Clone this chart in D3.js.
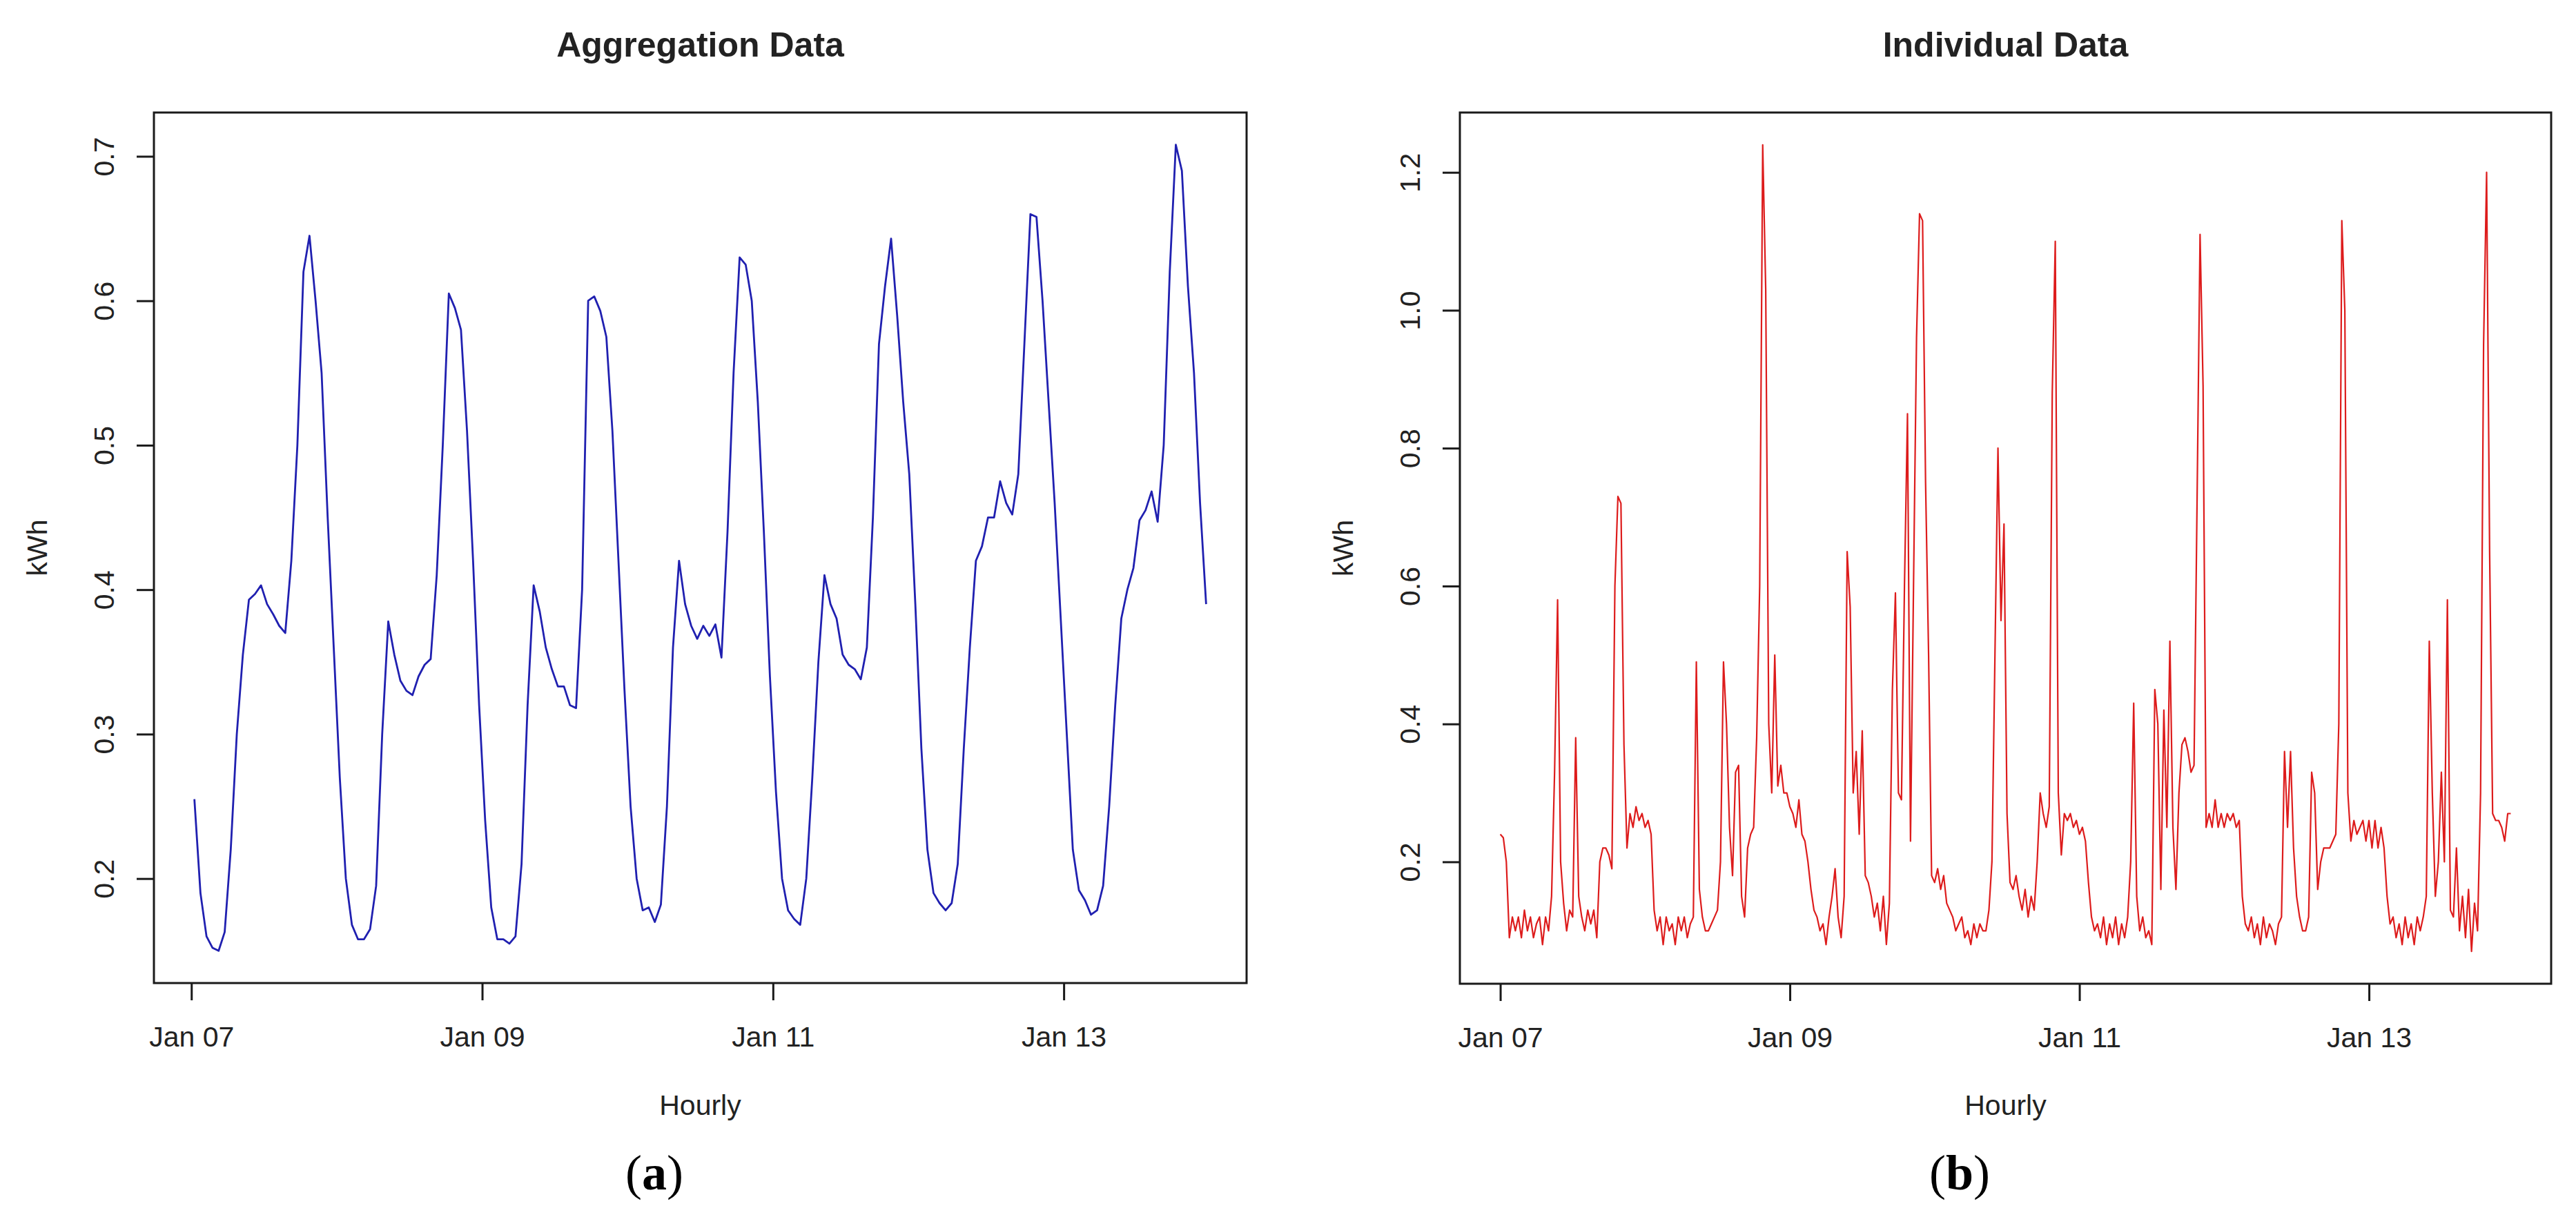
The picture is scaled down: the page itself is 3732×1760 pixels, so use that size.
<!DOCTYPE html>
<html>
<head>
<meta charset="utf-8">
<script src="https://cdn.jsdelivr.net/npm/d3@7"></script>
<style>
  body { margin: 0; background: #fff; }
  text { font-family: "Liberation Sans", Arial, sans-serif; fill: #222; }
</style>
</head>
<body>
<div id="chart"></div>
<script>
// hourly aggregated kWh, Jan 07 00:30 .. Jan 13 23:30
var aggValues = [
  0.255, 0.19, 0.16, 0.152, 0.150, 0.163, 0.22, 0.30, 0.355, 0.393, 0.397, 0.403,
  0.39, 0.383, 0.375, 0.37, 0.42, 0.50, 0.62, 0.645, 0.60, 0.55, 0.45, 0.36,
  0.27, 0.20, 0.168, 0.158, 0.158, 0.165, 0.195, 0.30, 0.378, 0.355, 0.337, 0.33,
  0.327, 0.34, 0.348, 0.352, 0.41, 0.50, 0.605, 0.595, 0.58, 0.51, 0.42, 0.32,
  0.24, 0.18, 0.158, 0.158, 0.155, 0.16, 0.21, 0.32, 0.403, 0.385, 0.36, 0.345,
  0.333, 0.333, 0.32, 0.318, 0.40, 0.60, 0.603, 0.593, 0.575, 0.51, 0.42, 0.33,
  0.25, 0.20, 0.178, 0.18, 0.17, 0.182, 0.25, 0.36, 0.42, 0.39, 0.375, 0.366,
  0.375, 0.368, 0.376, 0.353, 0.44, 0.55, 0.63, 0.625, 0.60, 0.53, 0.44, 0.34,
  0.26, 0.20, 0.178, 0.172, 0.168, 0.20, 0.27, 0.35, 0.41, 0.39, 0.38, 0.355,
  0.348, 0.345, 0.338, 0.36, 0.45, 0.57, 0.61, 0.643, 0.59, 0.53, 0.48, 0.39,
  0.29, 0.22, 0.19, 0.183, 0.178, 0.183, 0.21, 0.29, 0.36, 0.42, 0.43, 0.45,
  0.45, 0.475, 0.46, 0.452, 0.48, 0.57, 0.66, 0.658, 0.60, 0.53, 0.46, 0.38,
  0.30, 0.22, 0.192, 0.185, 0.175, 0.178, 0.195, 0.25, 0.32, 0.38, 0.40, 0.415,
  0.448, 0.455, 0.468, 0.447, 0.50, 0.62, 0.708, 0.69, 0.61, 0.55, 0.46, 0.39
];

// half-hourly individual kWh, Jan 07 00:00 .. Jan 13 23:30
var indValues = [
  0.24, 0.235, 0.20, 0.09, 0.12, 0.10, 0.12, 0.09, 0.13, 0.10, 0.12, 0.09,
  0.11, 0.12, 0.08, 0.12, 0.10, 0.15, 0.33, 0.58, 0.20, 0.14, 0.10, 0.13,
  0.12, 0.38, 0.15, 0.12, 0.10, 0.13, 0.11, 0.13, 0.09, 0.20, 0.22, 0.22,
  0.21, 0.19, 0.60, 0.73, 0.72, 0.37, 0.22, 0.27, 0.25, 0.28, 0.26, 0.27,
  0.25, 0.26, 0.24, 0.13, 0.10, 0.12, 0.08, 0.12, 0.10, 0.11, 0.08, 0.12,
  0.10, 0.12, 0.09, 0.11, 0.12, 0.49, 0.16, 0.12, 0.10, 0.10, 0.11, 0.12,
  0.13, 0.20, 0.49, 0.40, 0.25, 0.18, 0.33, 0.34, 0.15, 0.12, 0.22, 0.24,
  0.25, 0.38, 0.60, 1.24, 1.03, 0.40, 0.30, 0.50, 0.31, 0.34, 0.30, 0.30,
  0.28, 0.27, 0.25, 0.29, 0.24, 0.23, 0.20, 0.16, 0.13, 0.12, 0.10, 0.11,
  0.08, 0.12, 0.15, 0.19, 0.12, 0.09, 0.15, 0.65, 0.57, 0.30, 0.36, 0.24,
  0.39, 0.18, 0.17, 0.15, 0.12, 0.14, 0.10, 0.15, 0.08, 0.14, 0.45, 0.59,
  0.30, 0.29, 0.60, 0.85, 0.23, 0.60, 0.96, 1.14, 1.13, 0.75, 0.50, 0.18,
  0.17, 0.19, 0.16, 0.18, 0.14, 0.13, 0.12, 0.10, 0.11, 0.12, 0.09, 0.10,
  0.08, 0.11, 0.09, 0.11, 0.10, 0.10, 0.13, 0.20, 0.50, 0.80, 0.55, 0.69,
  0.27, 0.17, 0.16, 0.18, 0.15, 0.13, 0.16, 0.12, 0.15, 0.13, 0.20, 0.30,
  0.27, 0.25, 0.28, 0.88, 1.10, 0.30, 0.21, 0.27, 0.26, 0.27, 0.25, 0.26,
  0.24, 0.25, 0.23, 0.17, 0.12, 0.10, 0.11, 0.09, 0.12, 0.08, 0.11, 0.09,
  0.12, 0.08, 0.11, 0.09, 0.12, 0.20, 0.43, 0.15, 0.10, 0.12, 0.09, 0.10,
  0.08, 0.45, 0.40, 0.16, 0.42, 0.25, 0.52, 0.25, 0.16, 0.30, 0.37, 0.38,
  0.36, 0.33, 0.34, 0.72, 1.11, 0.89, 0.25, 0.27, 0.25, 0.29, 0.25, 0.27,
  0.25, 0.27, 0.26, 0.27, 0.25, 0.26, 0.15, 0.11, 0.10, 0.12, 0.09, 0.11,
  0.08, 0.12, 0.09, 0.11, 0.10, 0.08, 0.11, 0.12, 0.36, 0.25, 0.36, 0.22,
  0.15, 0.12, 0.10, 0.10, 0.12, 0.33, 0.30, 0.16, 0.20, 0.22, 0.22, 0.22,
  0.23, 0.24, 0.40, 1.13, 1.00, 0.30, 0.23, 0.26, 0.24, 0.25, 0.26, 0.23,
  0.26, 0.22, 0.26, 0.22, 0.25, 0.22, 0.15, 0.11, 0.12, 0.09, 0.11, 0.08,
  0.12, 0.09, 0.11, 0.08, 0.12, 0.10, 0.12, 0.15, 0.52, 0.30, 0.15, 0.20,
  0.33, 0.20, 0.58, 0.13, 0.12, 0.22, 0.10, 0.15, 0.09, 0.16, 0.07, 0.14,
  0.10, 0.30, 0.95, 1.20, 0.65, 0.27, 0.26, 0.26, 0.25, 0.23, 0.27, 0.27
];

var xTickLabels = ["Jan 07", "Jan 09", "Jan 11", "Jan 13"];
var aggYTicks = [0.2, 0.3, 0.4, 0.5, 0.6, 0.7];
var indYTicks = [0.2, 0.4, 0.6, 0.8, 1.0, 1.2];

var startDate = new Date(2014, 0, 7);
var HOUR = 3600 * 1000;

function hoursAfterStart(h) { return new Date(startDate.getTime() + h * HOUR); }

// R style axis range: data range stretched by 4% on each side
function rRange(ext) {
  var a = +ext[0], b = +ext[1], p = (b - a) * 0.04;
  return [a - p, b + p];
}

var svg = d3.select("#chart").append("svg")
  .attr("width", 3732)
  .attr("height", 1760);

function drawPanel(opt) {
  var pts = opt.values.map(function(v, i) {
    return { t: hoursAfterStart(opt.offset + i * opt.step), v: v };
  });

  var xr = rRange(d3.extent(pts, function(d) { return d.t; }));
  var x = d3.scaleTime()
    .domain([new Date(xr[0]), new Date(xr[1])])
    .range([opt.left, opt.right]);

  var y = d3.scaleLinear()
    .domain(rRange(d3.extent(opt.values)))
    .range([opt.bottom, opt.top]);

  var g = svg.append("g");

  // data line
  g.append("path")
    .datum(pts)
    .attr("fill", "none")
    .attr("stroke", opt.color)
    .attr("stroke-width", opt.lineWidth)
    .attr("stroke-linejoin", "round")
    .attr("d", d3.line()
      .x(function(d) { return x(d.t); })
      .y(function(d) { return y(d.v); }));

  // box
  g.append("rect")
    .attr("x", opt.left).attr("y", opt.top)
    .attr("width", opt.right - opt.left)
    .attr("height", opt.bottom - opt.top)
    .attr("fill", "none")
    .attr("stroke", "#1a1a1a")
    .attr("stroke-width", 3);

  // x axis
  var xTicks = xTickLabels.map(function(lab, i) { return hoursAfterStart(i * 48); });
  var xAxis = g.append("g")
    .attr("transform", "translate(0," + opt.bottom + ")")
    .call(d3.axisBottom(x)
      .tickValues(xTicks)
      .tickSize(25)
      .tickPadding(38)
      .tickFormat(function(d, i) { return xTickLabels[i]; }));
  xAxis.select(".domain").remove();
  xAxis.selectAll(".tick line").attr("stroke", "#1a1a1a").attr("stroke-width", 3);
  xAxis.selectAll(".tick text")
    .attr("font-size", 41)
    .attr("fill", "#222")
    .attr("font-family", "Liberation Sans, Arial, sans-serif");

  // y axis, labels parallel to the axis as in R
  var yAxis = g.append("g")
    .attr("transform", "translate(" + opt.left + ",0)")
    .call(d3.axisLeft(y).tickValues(opt.yTicks).tickSize(25).tickFormat(d3.format(".1f")));
  yAxis.select(".domain").remove();
  yAxis.selectAll(".tick line").attr("stroke", "#1a1a1a").attr("stroke-width", 3);
  yAxis.selectAll(".tick text")
    .attr("font-size", 41)
    .attr("fill", "#222")
    .attr("font-family", "Liberation Sans, Arial, sans-serif")
    .attr("text-anchor", "middle")
    .attr("x", null).attr("dy", null)
    .attr("transform", "translate(-58,0) rotate(-90)")
    .attr("y", 0);

  var cx = (opt.left + opt.right) / 2;

  g.append("text")
    .attr("x", cx).attr("y", 82)
    .attr("text-anchor", "middle")
    .attr("font-size", 50)
    .attr("font-weight", "bold")
    .attr("fill", "#111")
    .text(opt.title);

  g.append("text")
    .attr("x", cx).attr("y", 1615)
    .attr("text-anchor", "middle")
    .attr("font-size", 41)
    .text("Hourly");

  g.append("text")
    .attr("transform", "translate(" + (opt.left - 155) + "," + ((opt.top + opt.bottom) / 2) + ") rotate(-90)")
    .attr("text-anchor", "middle")
    .attr("font-size", 41)
    .text("kWh");

  var sub = g.append("text")
    .attr("x", opt.subX).attr("y", 1723)
    .attr("text-anchor", "middle")
    .attr("font-size", 72)
    .style("font-family", "'Liberation Serif', 'DejaVu Serif', serif")
    .style("fill", "#000");
  sub.append("tspan").text("(");
  sub.append("tspan").attr("font-weight", "bold").text(opt.sub);
  sub.append("tspan").text(")");
}

drawPanel({
  values: aggValues, offset: 0.5, step: 1,
  left: 223, right: 1806, top: 163, bottom: 1424,
  color: "#2020b0", lineWidth: 2.8,
  yTicks: aggYTicks, title: "Aggregation Data", sub: "a", subX: 948
});

drawPanel({
  values: indValues, offset: 0, step: 0.5,
  left: 2115, right: 3696, top: 163, bottom: 1425,
  color: "#dd1c1c", lineWidth: 2.2,
  yTicks: indYTicks, title: "Individual Data", sub: "b", subX: 2839
});
</script>
</body>
</html>
